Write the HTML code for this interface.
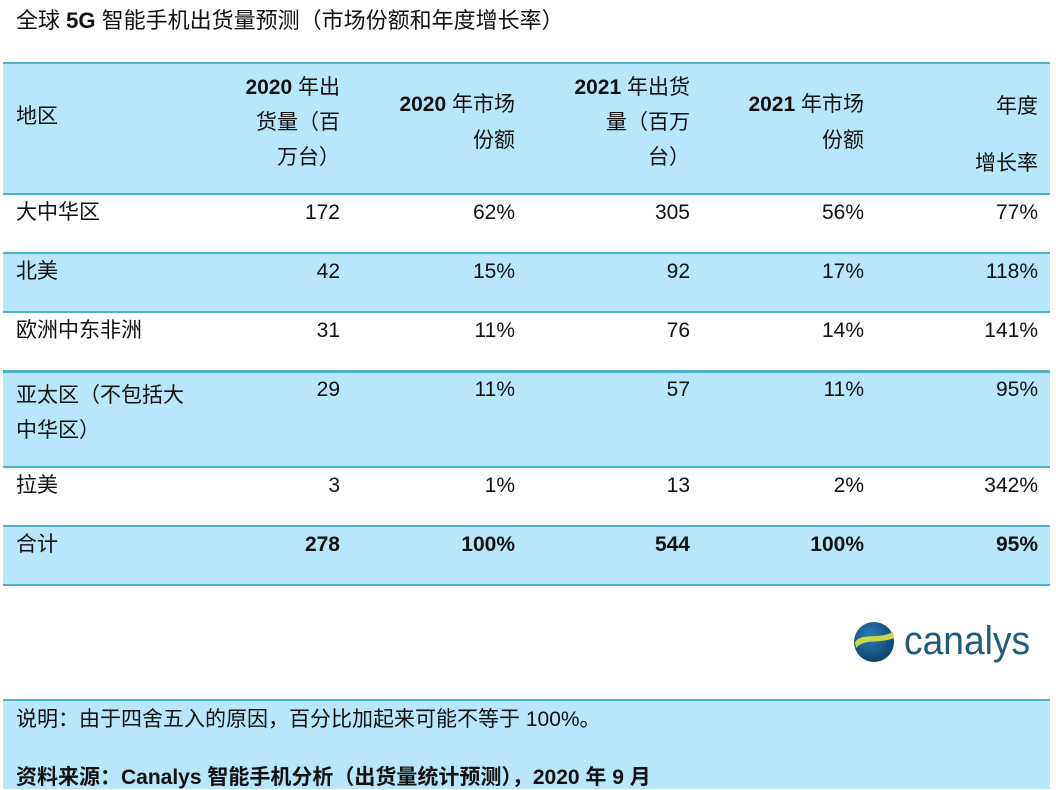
<!DOCTYPE html>
<html><head><meta charset="utf-8"><style>
body{margin:0;width:1056px;height:789px;background:#fff;position:relative;overflow:hidden;font-family:"Liberation Sans","Noto Sans CJK SC",sans-serif;font-size:21px;color:#111}
.a{position:absolute;white-space:nowrap;line-height:24px}
.bg{position:absolute;left:3px;width:1047px;background:#b8e6fa}
.ln{position:absolute;left:3px;width:1047px;height:2px;background:#4fb3c8}
.r{text-align:right}
b{font-weight:bold}
</style></head><body>
<div class="a" style="left:16px;top:9px;font-size:22px">全球 <b>5G</b> 智能手机出货量预测（市场份额和年度增长率）</div>

<div class="bg" style="top:63px;height:131px"></div>
<div class="bg" style="top:253px;height:59px"></div>
<div class="bg" style="top:371px;height:96px"></div>
<div class="bg" style="top:526px;height:59px"></div>
<div class="bg" style="top:700px;height:89px"></div>
<div class="ln" style="top:62px"></div>
<div class="ln" style="top:193px"></div>
<div class="ln" style="top:252px"></div>
<div class="ln" style="top:311px"></div>
<div class="ln" style="top:370px;height:3px"></div>
<div class="ln" style="top:466px"></div>
<div class="ln" style="top:525px"></div>
<div class="ln" style="top:584px"></div>
<div class="ln" style="top:699px"></div>

<!-- header -->
<div class="a" style="left:16px;top:105px">地区</div>
<div class="a r" style="right:716px;top:70px;line-height:35px"><b>2020</b> 年出<br>货量（百<br>万台）</div>
<div class="a r" style="right:541px;top:87px;line-height:36px"><b>2020</b> 年市场<br>份额</div>
<div class="a r" style="right:366px;top:70px;line-height:35px"><b>2021</b> 年出货<br>量（百万<br>台）</div>
<div class="a r" style="right:192px;top:87px;line-height:36px"><b>2021</b> 年市场<br>份额</div>
<div class="a r" style="right:18px;top:78px;line-height:57px">年度<br>增长率</div>

<!-- rows -->
<div class="a" style="left:16px;top:201px">大中华区</div>
<div class="a r" style="right:716px;top:201px">172</div><div class="a r" style="right:541px;top:201px">62%</div><div class="a r" style="right:366px;top:201px">305</div><div class="a r" style="right:192px;top:201px">56%</div><div class="a r" style="right:18px;top:201px">77%</div>

<div class="a" style="left:16px;top:260px">北美</div>
<div class="a r" style="right:716px;top:260px">42</div><div class="a r" style="right:541px;top:260px">15%</div><div class="a r" style="right:366px;top:260px">92</div><div class="a r" style="right:192px;top:260px">17%</div><div class="a r" style="right:18px;top:260px">118%</div>

<div class="a" style="left:16px;top:319px">欧洲中东非洲</div>
<div class="a r" style="right:716px;top:319px">31</div><div class="a r" style="right:541px;top:319px">11%</div><div class="a r" style="right:366px;top:319px">76</div><div class="a r" style="right:192px;top:319px">14%</div><div class="a r" style="right:18px;top:319px">141%</div>

<div class="a" style="left:16px;top:378px;line-height:35px">亚太区（不包括大<br>中华区）</div>
<div class="a r" style="right:716px;top:378px">29</div><div class="a r" style="right:541px;top:378px">11%</div><div class="a r" style="right:366px;top:378px">57</div><div class="a r" style="right:192px;top:378px">11%</div><div class="a r" style="right:18px;top:378px">95%</div>

<div class="a" style="left:16px;top:474px">拉美</div>
<div class="a r" style="right:716px;top:474px">3</div><div class="a r" style="right:541px;top:474px">1%</div><div class="a r" style="right:366px;top:474px">13</div><div class="a r" style="right:192px;top:474px">2%</div><div class="a r" style="right:18px;top:474px">342%</div>

<div class="a" style="left:16px;top:533px">合计</div>
<div class="a r" style="right:716px;top:533px"><b>278</b></div><div class="a r" style="right:541px;top:533px"><b>100%</b></div><div class="a r" style="right:366px;top:533px"><b>544</b></div><div class="a r" style="right:192px;top:533px"><b>100%</b></div><div class="a r" style="right:18px;top:533px"><b>95%</b></div>

<!-- logo -->
<svg style="position:absolute;left:853px;top:620px" width="44" height="44" viewBox="0 0 44 44">
<defs><radialGradient id="g" cx="0.4" cy="0.35" r="0.7"><stop offset="0" stop-color="#2a7fb5"/><stop offset="1" stop-color="#0b3f68"/></radialGradient></defs>
<circle cx="21" cy="22" r="20" fill="url(#g)"/>
<path d="M2 22 C10 12,24 20,40 12 L41 18 C26 24,12 18,3 28 Z" fill="#c8d84a"/>
</svg>
<div class="a" style="left:904px;top:618px;font-size:40px;line-height:46px;color:#1d5c7e;transform:scaleX(0.93);transform-origin:left">canalys</div>

<div class="a" style="left:16px;top:708px">说明：由于四舍五入的原因，百分比加起来可能不等于 100%。</div>
<div class="a" style="left:16px;top:766px;font-weight:bold">资料来源：Canalys 智能手机分析（出货量统计预测），2020 年 9 月</div>
</body></html>
